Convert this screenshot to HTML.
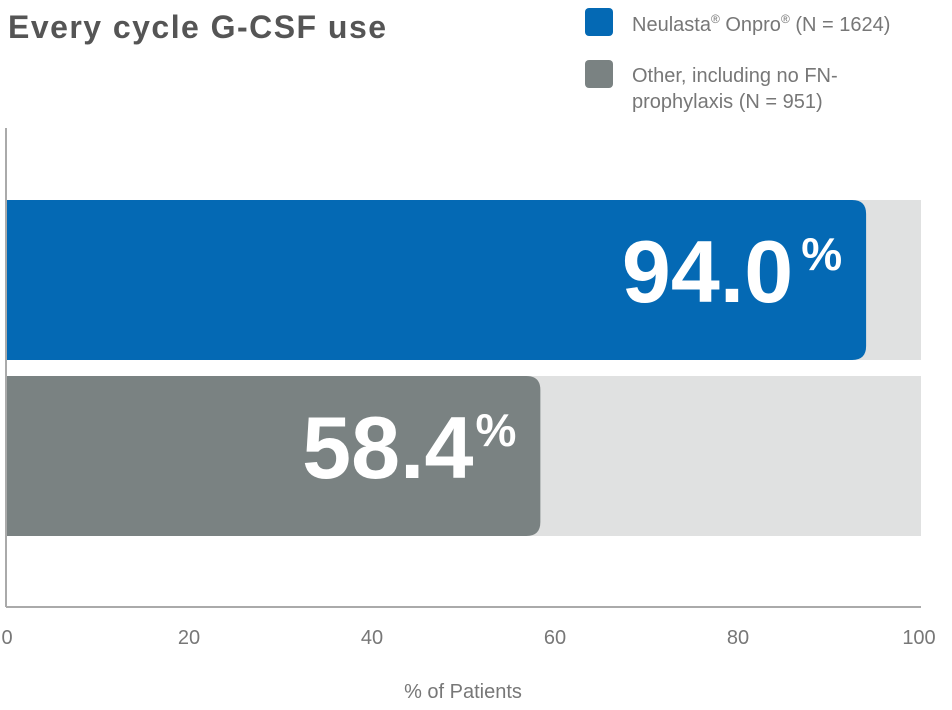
<!DOCTYPE html>
<html><head><meta charset="utf-8"><style>body{margin:0;background:#fff}svg{display:block;font-family:"Liberation Sans",sans-serif}</style></head>
<body>
<svg width="952" height="710" viewBox="0 0 952 710">
<text x="8" y="38" font-size="32" font-weight="bold" fill="#555" textLength="378">Every cycle G-CSF use</text>
<g>
<rect x="585" y="8" width="28" height="28" rx="4" fill="#0469b4"/>
<text x="632" y="31" font-size="20" fill="#777">Neulasta<tspan font-size="12" dy="-8">®</tspan><tspan dy="8"> Onpro</tspan><tspan font-size="12" dy="-8">®</tspan><tspan dy="8"> (N = 1624)</tspan></text>
<rect x="585" y="60" width="28" height="28" rx="4" fill="#7a8282"/>
<text x="632" y="82" font-size="20" fill="#777">Other, including no FN-</text>
<text x="632" y="108" font-size="20" fill="#777">prophylaxis (N = 951)</text>
</g>
<g id="plot"></g>
<text x="463" y="698" font-size="20" fill="#777" text-anchor="middle">% of Patients</text>
</svg>
<script>
const categories = ["Neulasta Onpro", "Other"];
const values = [94.0, 58.4];
const valueLabels = ["94.0", "58.4"];
const ticks = [0, 20, 40, 60, 80, 100];
const colors = ["#0469b4", "#7a8282"];
const NS = "http://www.w3.org/2000/svg";
const x0 = 6, x1 = 921;
const xs = v => x0 + (v / 100) * (x1 - x0);
const bandTop = [200, 376], bandH = 160;
const g = document.getElementById('plot');
function mk(tag, attrs, parent) { const e = document.createElementNS(NS, tag); for (const k in attrs) e.setAttribute(k, attrs[k]); (parent || g).appendChild(e); return e; }
categories.forEach((c, i) => {
  const y = bandTop[i];
  const bg = mk('rect', { x: x0, y: y, width: x1 - x0, height: bandH, fill: '#e0e1e1' });
  
  
  const xe = xs(values[i]), r = 14;
  const bar = mk('path', { d: `M${x0},${y} H${xe - r} Q${xe},${y} ${xe},${y + r} V${y + bandH - r} Q${xe},${y + bandH} ${xe - r},${y + bandH} H${x0} Z`, fill: colors[i] });
  
  
  const t = mk('text', { x: xe - 24, y: y + 102, 'font-size': 88, 'font-weight': 'bold', fill: '#fff', 'text-anchor': 'end' });
  
  
  const a = document.createElementNS(NS, 'tspan'); a.textContent = valueLabels[i]; t.appendChild(a);
  const p = document.createElementNS(NS, 'tspan'); p.setAttribute('font-size', '46'); p.setAttribute('dy', '-32'); p.setAttribute('dx', i === 0 ? '8' : '2'); p.textContent = '%'; t.appendChild(p);
});
const ya = mk('line', { x1: x0, y1: 128, x2: x0, y2: 607, stroke: '#aaa', 'stroke-width': 2 });


const xa = mk('line', { x1: x0, y1: 607, x2: x1, y2: 607, stroke: '#aaa', 'stroke-width': 2 });


ticks.forEach(v => {
  const t = mk('text', { x: xs(v), y: 644, 'font-size': 20, fill: '#777', 'text-anchor': v === 100 ? 'middle' : 'middle' });
  
  
  t.textContent = v;
  if (v === 0) t.setAttribute('x', xs(v) + 1);
  if (v === 100) t.setAttribute('x', xs(v) - 2);
});
</script>
</body></html>
